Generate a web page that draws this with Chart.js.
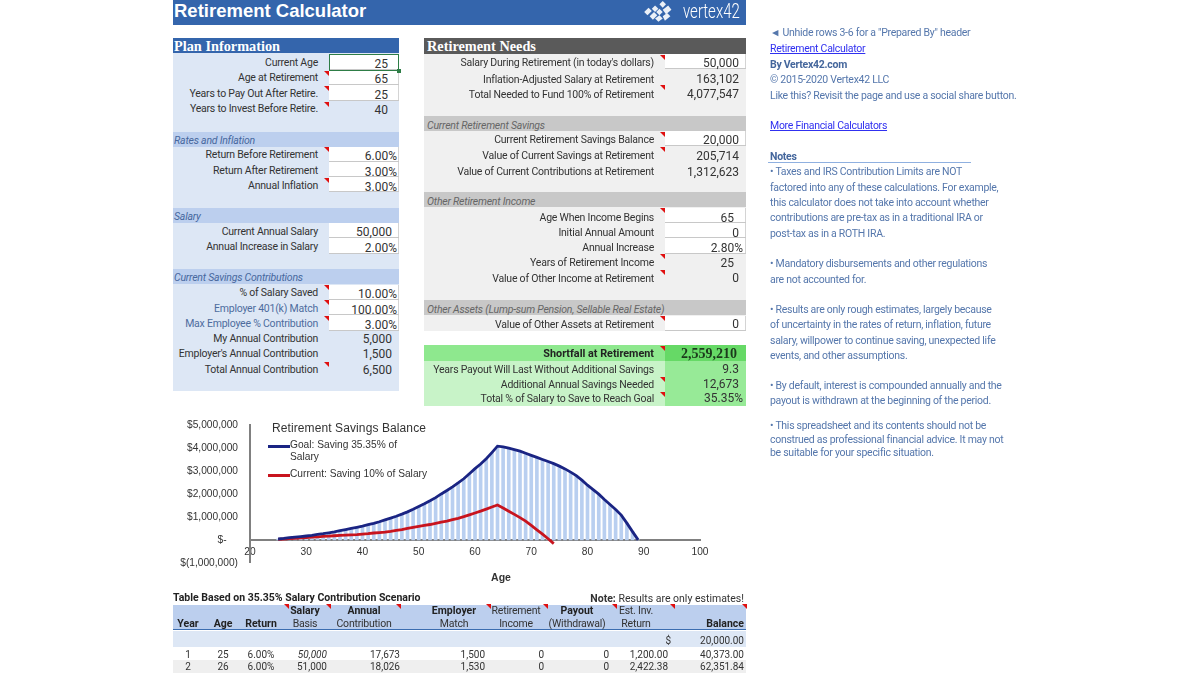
<!DOCTYPE html>
<html><head><meta charset="utf-8">
<script src="https://cdn.jsdelivr.net/npm/chart.js@4"></script>
<style>
html,body{margin:0;padding:0;background:#fff;width:1200px;height:675px;overflow:hidden}
#page{position:absolute;left:0;top:0;width:1200px;height:675px;filter:blur(.3px)}
.b{position:absolute}
.t{position:absolute;white-space:nowrap;height:16px;line-height:16px;font-family:Roboto,sans-serif;font-size:10.5px;letter-spacing:-.22px;color:#333}
.r{transform:translateX(-100%)}
.c{transform:translateX(-50%)}
.v{font-size:12px;letter-spacing:0}
.tri{position:absolute;width:0;height:0;border-top:5px solid #e01010;border-left:5px solid transparent}
canvas{position:absolute;left:173px;top:410px;filter:blur(.4px)}
</style></head><body>
<div id="page"></div>
<canvas id="c" width="575" height="167"></canvas>
<script>
/* chart data */
const ages=[25,26,27,28,29,30,31,32,33,34,35,36,37,38,39,40,41,42,43,44,45,46,47,48,49,50,51,52,53,54,55,56,57,58,59,60,61,62,63,64,65,66,67,68,69,70,71,72,73,74,75,76,77,78,79,80,81,82,83,84,85,86,87,88,89];
const goalBalance=[40000,62000,95000,125000,145000,170000,200000,240000,270000,310000,350000,400000,450000,500000,550000,600000,660000,720000,790000,870000,950000,1030000,1120000,1220000,1330000,1450000,1570000,1700000,1840000,2000000,2150000,2310000,2480000,2660000,2880000,3100000,3300000,3530000,3800000,4080000,4050000,3990000,3930000,3860000,3770000,3680000,3590000,3500000,3410000,3320000,3210000,3090000,2950000,2800000,2600000,2380000,2190000,1990000,1760000,1540000,1320000,1080000,730000,360000,0];
const currentAges=[25,26,27,28,29,30,31,32,33,34,35,36,37,38,39,40,41,42,43,44,45,46,47,48,49,50,51,52,53,54,55,56,57,58,59,60,61,62,63,64,65,66,67,68,69,70,71,72,73,74];
const currentBalance=[25000,40000,55000,70000,90000,105000,120000,135000,150000,160000,180000,200000,210000,220000,230000,250000,270000,300000,320000,340000,370000,410000,450000,500000,550000,590000,630000,670000,720000,770000,820000,880000,940000,1010000,1090000,1170000,1250000,1340000,1430000,1520000,1390000,1250000,1110000,970000,820000,630000,440000,250000,50000,-160000];
const yTickValues=[5000000,4000000,3000000,2000000,1000000,0,-1000000];
const yTickLabels=['$5,000,000','$4,000,000','$3,000,000','$2,000,000','$1,000,000','$-    ','$(1,000,000)'];
const seriesNames=['Goal: Saving 35.35% of Salary','Current: Saving 10% of Salary'];

/* page furniture */
const page=document.getElementById('page');
function box(x,y,w,h,bg,extra){const d=document.createElement('div');d.className='b';d.style.cssText=`left:${x}px;top:${y}px;width:${w}px;height:${h}px;background:${bg};${extra||''}`;page.appendChild(d);return d}
function txt(x,y,s,cls,css){const d=document.createElement('div');d.className='t '+(cls||'');d.style.cssText=`left:${x}px;top:${y-7}px;${css||''}`;d.textContent=s;page.appendChild(d);return d}
function tri(x,y){const d=document.createElement('div');d.className='tri';d.style.cssText=`left:${x}px;top:${y}px`;page.appendChild(d)}
const cell='box-shadow:inset 0 -1px 0 #c8c8c8,inset -1px 0 0 #d4d4d4';

box(173,0,573,25,'#3465ac');
txt(174,11,'Retirement Calculator','',"font:bold 18.5px 'Liberation Sans';color:#fff;height:22px;line-height:22px;top:0;letter-spacing:0");
txt(683,11,'vertex42','',"font:300 15px Roboto;color:#fff;height:22px;line-height:22px;top:0;letter-spacing:0;transform:scaleY(1.35);transform-origin:0 50%");
page.insertAdjacentHTML('beforeend','<svg class="b" style="left:640px;top:0" width="40" height="24" viewBox="0 0 33 22"><g fill="#fff" opacity=".9"><path d="M2 11l4-4 3 3-4 4z"/><path d="M9 8l3-3 3 3-3 3z"/><path d="M7 15l4-4 3 3-4 4z"/><path d="M13 11l3-3 3 3-3 3z"/><path d="M16 4l3-3 3 3-3 3z"/><path d="M12 17l4-3 3 3-4 3z"/><path d="M19 9l5-4 3 4-5 4z"/><path d="M19 15l4-3 3 3-5 4z"/></g></svg>');

/* plan information */
const hdr="font:bold 14.3px 'Liberation Serif';color:#fff;letter-spacing:0";
box(173,38,226,353,'#dde7f5');
box(173,38,226,15,'#3465ac');
txt(174,45,'Plan Information','',hdr);
const blueSub=[[132,'Rates and Inflation'],[208,'Salary'],[269,'Current Savings Contributions']];
blueSub.forEach(([y,s])=>{box(173,y,226,15,'#bccfee');txt(174,y+8,s,'',"font-style:italic;color:#47689e")});
[[54,16],[70,15],[85,16],[147,15],[162,15],[177,15],[223,15],[238,16],[285,15],[300,15],[315,16]].forEach(([y,h])=>box(329,y,70,h,'#fff',cell));
box(329,54,70,17,'transparent','box-sizing:border-box;border:1.5px solid #2e7d46');
box(397,69,4,4,'#2e7d46');
const blueLabel='color:#4d6c9e';
[[62,'Current Age'],[77,'Age at Retirement'],[93,'Years to Pay Out After Retire.'],[108,'Years to Invest Before Retire.'],[154,'Return Before Retirement'],[170,'Return After Retirement'],[185,'Annual Inflation'],[231,'Current Annual Salary'],[246,'Annual Increase in Salary'],[292,'% of Salary Saved'],[308,'Employer 401(k) Match',blueLabel],[323,'Max Employee % Contribution',blueLabel],[338,'My Annual Contribution'],[353,"Employer's Annual Contribution"],[369,'Total Annual Contribution']].forEach(([y,s,c])=>txt(318,y,s,'r',c));
[[63,'25',388],[78,'65',388],[94,'25',388],[109,'40',388],[155,'6.00%',397],[171,'3.00%',397],[186,'3.00%',397],[231,'50,000',392],[247,'2.00%',397],[293,'10.00%',397],[309,'100.00%',397],[324,'3.00%',397],[338,'5,000',392],[353,'1,500',392],[369,'6,500',392]].forEach(([y,s,x])=>txt(x,y,s,'r v'));
[[71],[86],[102],[147],[178],[285],[300],[316],[362]].forEach(([y])=>tri(324,y));

/* retirement needs */
box(424,38,322,293,'#f0f0f0');
box(424,38,322,16,'#5a5a5a');
txt(427,45,'Retirement Needs','',hdr);
[[116,'Current Retirement Savings'],[192,'Other Retirement Income'],[300,'Other Assets (Lump-sum Pension, Sellable Real Estate)']].forEach(([y,s])=>{box(424,y,322,15,'#c8c8c8');txt(427,y+9,s,'',"font-style:italic;color:#666")});
[[54,15],[131,15],[208,15],[223,15],[238,16],[316,15]].forEach(([y,h])=>box(665,y,81,h,'#fff',cell));
[[62,"Salary During Retirement (in today's dollars)"],[79,'Inflation-Adjusted Salary at Retirement'],[94,'Total Needed to Fund 100% of Retirement'],[139,'Current Retirement Savings Balance'],[155,'Value of Current Savings at Retirement'],[171,'Value of Current Contributions at Retirement'],[217,'Age When Income Begins'],[232,'Initial Annual Amount'],[247,'Annual Increase'],[262,'Years of Retirement Income'],[278,'Value of Other Income at Retirement'],[324,'Value of Other Assets at Retirement']].forEach(([y,s])=>txt(654,y,s,'r'));
[[62,'50,000',739],[78,'163,102',739],[93,'4,077,547',739],[139,'20,000',739],[155,'205,714',739],[171,'1,312,623',739],[217,'65',734],[232,'0',739],[247,'2.80%',743],[262,'25',734],[277,'0',739],[323,'0',739]].forEach(([y,s,x])=>txt(x,y,s,'r v'));
[[55],[85],[132],[147],[208],[254],[270],[316]].forEach(([y])=>tri(660,y));

/* results */
box(424,345,322,61,'#c8f3c8');
box(424,345,322,16,'#8ee88e');
box(665,345,81,16,'#66d966');
box(665,361,81,45,'#97ea97');
[[346],[377],[392]].forEach(([y])=>tri(660,y));
txt(654,354,'Shortfall at Retirement','r',"font:bold 10.8px Roboto;color:#222;letter-spacing:0");
txt(737,353,'2,559,210','r',"font:bold 14px 'Liberation Serif';color:#1c3a1c;letter-spacing:0");
[[369,'Years Payout Will Last Without Additional Savings'],[384,'Additional Annual Savings Needed'],[398,'Total % of Salary to Save to Reach Goal']].forEach(([y,s])=>txt(654,y,s,'r'));
[[368,'9.3',739],[383,'12,673',739],[397,'35.35%',743]].forEach(([y,s,x])=>txt(x,y,s,'r v'));

/* chart overlay text */
const lf="font:10.2px 'Liberation Sans';color:#333;letter-spacing:0";
txt(272,428,'Retirement Savings Balance','',"font:12px 'Liberation Sans';color:#333;letter-spacing:.1px");
box(268,445,22,3,'#1a2483');
txt(290,446,'Goal: Saving 35.35% of','',lf);
txt(290,458,'Salary','',lf);
box(268,474,22,3,'#c8141e');
txt(290,475,'Current: Saving 10% of Salary','',lf);
txt(501,578,'Age','c',"font:bold 10.5px 'Liberation Sans';color:#333;letter-spacing:0");

/* amortization table */
txt(173,598,'Table Based on 35.35% Salary Contribution Scenario','',"font:bold 10.5px Roboto;color:#222;letter-spacing:0");
const note=txt(744,598,'','r','font-size:10.5px;color:#333;letter-spacing:0');note.innerHTML='<b>Note:</b> Results are only estimates!';
box(173,605,573,25,'#bccfee','box-shadow:inset 0 -1px 0 #3b6db0');
box(173,631,573,16,'#dde7f5');
box(173,660,573,13,'#efefef');
const bh='font-weight:bold;color:#222;letter-spacing:0';
[[305,610,'Salary',bh],[305,623,'Basis'],[364,610,'Annual',bh],[364,623,'Contribution'],[454,610,'Employer',bh],[454,623,'Match'],[516,610,'Retirement'],[516,623,'Income'],[577,610,'Payout',bh],[577,623,'(Withdrawal)'],[636,610,'Est. Inv.'],[636,623,'Return'],[188,623,'Year',bh],[223,623,'Age',bh],[261,623,'Return',bh]].forEach(([x,y,s,c])=>txt(x,y,s,'c',c));
txt(744,623,'Balance','r',bh);
[[284],[326],[396],[486],[543],[612],[670],[742]].forEach(([x])=>tri(x,604));
const tr='font-size:10px;letter-spacing:0';
txt(671,640,'$','r',tr);txt(744,640,'20,000.00','r',tr);
const rowY=[654,666];
const tableRows=[['1','25','6.00%','50,000','17,673','1,500','0','0','1,200.00','40,373.00'],['2','26','6.00%','51,000','18,026','1,530','0','0','2,422.38','62,351.84']];
tableRows.forEach((row,i)=>{const y=rowY[i];
 txt(188,y,row[0],'c',tr);txt(223,y,row[1],'c',tr);txt(261,y,row[2],'c',tr);
 txt(327,y,row[3],'r',tr+(i==0?';font-style:italic':''));txt(400,y,row[4],'r',tr);txt(485,y,row[5],'r',tr);
 txt(544,y,row[6],'r',tr);txt(609,y,row[7],'r',tr);txt(668,y,row[8],'r',tr);txt(744,y,row[9],'r',tr);});

/* side notes */
const nc='color:#5577ac';const lk='color:#3030f0;text-decoration:underline';
[[32,'◄ Unhide rows 3-6 for a "Prepared By" header',nc],[48,'Retirement Calculator',lk],[64,'By Vertex42.com','color:#44669c;font-weight:bold'],[79,'© 2015-2020 Vertex42 LLC',nc],[95,'Like this? Revisit the page and use a social share button.',nc],[125,'More Financial Calculators',lk],[156,'Notes','color:#44669c;font-weight:bold'],
[171,'• Taxes and IRS Contribution Limits are NOT',nc],[187,'factored into any of these calculations. For example,',nc],[202,'this calculator does not take into account whether',nc],[217,'contributions are pre-tax as in a traditional IRA or',nc],[233,'post-tax as in a ROTH IRA.',nc],[263,'• Mandatory disbursements and other regulations',nc],[279,'are not accounted for.',nc],[309,'• Results are only rough estimates, largely because',nc],[324,'of uncertainty in the rates of return, inflation, future',nc],[340,'salary, willpower to continue saving, unexpected life',nc],[355,'events, and other assumptions.',nc],[385,'• By default, interest is compounded annually and the',nc],[400,'payout is withdrawn at the beginning of the period.',nc],[425,'• This spreadsheet and its contents should not be',nc],[439,'construed as professional financial advice. It may not',nc],[452,'be suitable for your specific situation.',nc]].forEach(([y,s,c])=>txt(770,y,s,'',c+';letter-spacing:-.28px'));
box(768,162,203,1,'#8fb0e0');

/* chart */
const axisGrey='#808080';
new Chart(document.getElementById('c'),{
 type:'bar',
 data:{datasets:[
  {type:'line',label:seriesNames[0],data:ages.map((a,i)=>({x:a,y:goalBalance[i]})),borderColor:'#1a2483',borderWidth:2.8,pointRadius:0,tension:0,order:1},
  {type:'line',label:seriesNames[1],data:currentAges.map((a,i)=>({x:a,y:currentBalance[i]})),borderColor:'#c8141e',borderWidth:2.8,pointRadius:0,tension:0,order:2},
  {type:'bar',label:'Balance',data:ages.map((a,i)=>({x:a,y:goalBalance[i]})),backgroundColor:'#b9cff0',barThickness:3,order:3}
 ]},
 options:{
  responsive:false,animation:false,devicePixelRatio:1,
  layout:{padding:{left:0,right:48,top:15,bottom:3}},
  plugins:{legend:{display:false},title:{display:false},tooltip:{enabled:false}},
  scales:{
   x:{type:'linear',position:{y:0},min:20,max:100,offset:false,
      grid:{display:false,drawTicks:true,tickLength:4,tickColor:axisGrey},
      border:{color:axisGrey,width:2},
      ticks:{stepSize:10,padding:2,color:'#333',maxRotation:0,font:{family:'Liberation Sans',size:10.2}}},
   y:{type:'linear',min:-1000000,max:5000000,
      afterFit:s=>{s.width=77},
      afterBuildTicks:s=>{s.ticks=yTickValues.map(v=>({value:v}))},
      grid:{display:false,drawTicks:true,tickLength:4,tickColor:axisGrey},
      border:{color:axisGrey,width:2},
      ticks:{padding:8,color:'#333',font:{family:'Liberation Sans',size:10.2},callback:v=>yTickLabels[yTickValues.indexOf(v)]}}
  }
 }
});
</script></body></html>
